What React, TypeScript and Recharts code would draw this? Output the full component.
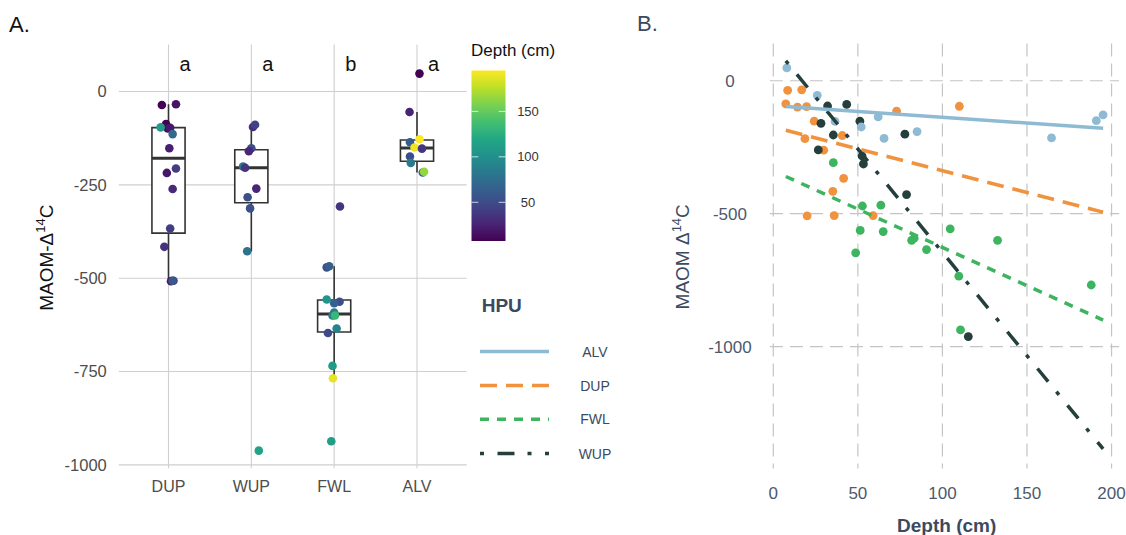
import React from 'react';
import {
  ComposedChart,
  Scatter,
  XAxis,
  YAxis,
  CartesianGrid,
  ReferenceArea,
  ReferenceLine,
} from 'recharts';

const FONT = '"Liberation Sans", Arial, Helvetica, sans-serif';

// ---------------- DATA ----------------
const CATEGORIES = ['DUP', 'WUP', 'FWL', 'ALV'];
const CATEGORY_POS = [1, 2, 3, 4];
const SIG_LETTERS = ['a', 'a', 'b', 'a'];
const SIG_LETTER_Y = 75;
const LEGEND_ORDER = ['ALV', 'DUP', 'FWL', 'WUP'];

const DUP_DEPTH = [8.5, 16.8, 7.4, 14.3, 19.7, 110, 72.9, 24.2, 40.8, 18.7, 29.8, 41.6, 35.2, 20, 36, 59];
const DUP_VALUE = [-36, -34, -87, -99, -97, -96, -114, -152, -206, -218, -261, -367, -416, -508, -507, -507];
const DUP_JITTER = [-0.08, 0.09, -0.03, -0.01, 0.02, -0.095, 0.05, 0.01, 0.09, -0.02, 0.05, 0.02, -0.05, 0.03, 0.06, 0.05];

const WUP_DEPTH = [32.1, 43.4, 51.2, 28.2, 77.8, 35.5, 26.6, 52.5, 53.3, 78.8, 115.3];
const WUP_VALUE = [-95, -89, -152, -160, -201, -204, -260, -283, -313, -428, -962];
const WUP_JITTER = [0.02, 0.045, 0, -0.03, -0.1, -0.075, 0.06, -0.045, -0.015, -0.05, 0.09];

const FWL_DEPTH = [35.5, 52.7, 63.6, 104.6, 51.4, 65, 81.8, 83.3, 132.6, 90.6, 48.7, 109.7, 188, 110.7];
const FWL_VALUE = [-308, -471, -468, -557, -563, -567, -600, -592, -600, -635, -647, -735, -768, -937];
const FWL_JITTER = [0.07, -0.09, -0.06, -0.09, 0.065, 0, -0.02, 0.0, 0.01, 0.03, -0.075, -0.02, -0.015, -0.035];

const ALV_DEPTH = [8, 26, 62, 195, 191, 36.5, 52, 85, 65.5, 164.5];
const ALV_VALUE = [48, -55, -136, -128, -150, -153, -174, -191, -217, -215];
const ALV_JITTER = [0.03, -0.09, -0.085, 0.03, -0.03, 0.06, -0.085, -0.075, 0.07, 0.085];

// fitted lines, at the two depths below
const FIT_DEPTH = [7.4, 195];
const ALV_FIT = [-97, -179];
const DUP_FIT = [-186, -494];
const FWL_FIT = [-360, -900];
const WUP_FIT = [75, -1384];

const Y_TICKS_A = [-1000, -750, -500, -250, 0];
const Y_TICKS_B = [-1000, -500, 0];
const X_TICKS_B = [0, 50, 100, 150, 200];
const COLORBAR_TICKS = [50, 100, 150];

// ---------------- STYLE ----------------
const GROUPS: Record<string, { depth: number[]; value: number[]; jitter: number[]; fit: number[] }> = {
  DUP: { depth: DUP_DEPTH, value: DUP_VALUE, jitter: DUP_JITTER, fit: DUP_FIT },
  WUP: { depth: WUP_DEPTH, value: WUP_VALUE, jitter: WUP_JITTER, fit: WUP_FIT },
  FWL: { depth: FWL_DEPTH, value: FWL_VALUE, jitter: FWL_JITTER, fit: FWL_FIT },
  ALV: { depth: ALV_DEPTH, value: ALV_VALUE, jitter: ALV_JITTER, fit: ALV_FIT },
};

const HPU_STYLE: Record<string, { color: string; dash?: string }> = {
  ALV: { color: '#8fbad3' },
  DUP: { color: '#f0923e', dash: '17 9' },
  FWL: { color: '#3db45f', dash: '9 8' },
  WUP: { color: '#253f3d', dash: '4 13.5 17 13' },
};

const SLATE = '#3b4a5f';
const TICK_B = '#4c5a6d';
const TICK_A = '#4d4d4d';

const VIR = ['#440154', '#482475', '#414487', '#355f8d', '#2a788e', '#21918c', '#22a884', '#44bf70', '#7ad151', '#bddf26', '#fde725'];

const ALL_DEPTHS = [...DUP_DEPTH, ...WUP_DEPTH, ...FWL_DEPTH, ...ALV_DEPTH];
const DMIN = Math.min(...ALL_DEPTHS);
const DMAX = Math.max(...ALL_DEPTHS);

function hexToRgb(h: string) {
  return [parseInt(h.slice(1, 3), 16), parseInt(h.slice(3, 5), 16), parseInt(h.slice(5, 7), 16)];
}
function viridis(d: number) {
  let t = (d - DMIN) / (DMAX - DMIN);
  t = Math.max(0, Math.min(1, t));
  const s = t * 10;
  const i = Math.min(9, Math.floor(s));
  const f = s - i;
  const a = hexToRgb(VIR[i]);
  const b = hexToRgb(VIR[i + 1]);
  const c = a.map((v, k) => Math.round(v + (b[k] - v) * f));
  return `rgb(${c[0]},${c[1]},${c[2]})`;
}

function q7(sorted: number[], p: number) {
  const h = (sorted.length - 1) * p;
  const lo = Math.floor(h);
  const hi = Math.ceil(h);
  return sorted[lo] + (sorted[hi] - sorted[lo]) * (h - lo);
}
function boxStats(values: number[]) {
  const s = [...values].sort((a, b) => a - b);
  const q1 = q7(s, 0.25);
  const med = q7(s, 0.5);
  const q3 = q7(s, 0.75);
  const iqr = q3 - q1;
  const lo = Math.min(...s.filter((v) => v >= q1 - 1.5 * iqr));
  const hi = Math.max(...s.filter((v) => v <= q3 + 1.5 * iqr));
  return { q1, med, q3, lo, hi };
}

const pointsA = CATEGORIES.flatMap((c, i) =>
  GROUPS[c].depth.map((d, j) => ({ x: CATEGORY_POS[i] + GROUPS[c].jitter[j], y: GROUPS[c].value[j], depth: d }))
);
const boxes = CATEGORIES.map((c, i) => ({ pos: CATEGORY_POS[i], ...boxStats(GROUPS[c].value) }));
const lettersData = CATEGORIES.map((c, i) => ({ x: CATEGORY_POS[i] + 0.2, y: SIG_LETTER_Y, label: SIG_LETTERS[i] }));

const BOX_HALF = 0.2;
const BOX_STROKE = '#333333';

// colorbar geometry
const CB_X = 471.5;
const CB_TOP = 70.5;
const CB_H = 170.5;
const CB_W = 34;
const cbY = (d: number) => CB_TOP + CB_H - ((d - DMIN) / (DMAX - DMIN)) * CB_H;

const LEGEND_Y = [351.5, 385.5, 419.3, 453.5];

export default function App() {
  return (
    <div
      style={{
        position: 'absolute',
        left: 0,
        top: 0,
        width: 1126,
        height: 535,
        background: '#ffffff',
        fontFamily: FONT,
        overflow: 'hidden',
      }}
    >
      {/* Panel A */}
      <div style={{ position: 'absolute', left: 0, top: 0 }}>
        <ComposedChart width={480} height={535} margin={{ top: 44.5, right: 13.3, bottom: 36.8, left: 58.8 }}>
          <CartesianGrid
            stroke="#cfcfcf"
            strokeWidth={1.1}
            horizontalValues={Y_TICKS_A}
            verticalValues={CATEGORY_POS}
          />
          <XAxis
            type="number"
            dataKey="x"
            domain={[0.4, 4.6]}
            ticks={CATEGORY_POS}
            interval={0}
            allowDataOverflow
            tickFormatter={(v: number) => CATEGORIES[CATEGORY_POS.indexOf(Math.round(v))]}
            axisLine={false}
            tickLine={false}
            height={30}
            tickMargin={6.5}
            tick={{ fill: TICK_A, fontSize: 16 }}
          />
          <YAxis
            type="number"
            dataKey="y"
            domain={[-1009, 126]}
            ticks={Y_TICKS_A}
            interval={0}
            allowDataOverflow
            axisLine={false}
            tickLine={false}
            width={60}
            tickMargin={6}
            tick={{ fill: TICK_A, fontSize: 16.5 }}
          />
          {boxes.map((b) => (
            <ReferenceLine
              key={'wu' + b.pos}
              segment={[
                { x: b.pos, y: b.q3 },
                { x: b.pos, y: b.hi },
              ]}
              stroke={BOX_STROKE}
              strokeWidth={1.6}
            />
          ))}
          {boxes.map((b) => (
            <ReferenceLine
              key={'wl' + b.pos}
              segment={[
                { x: b.pos, y: b.lo },
                { x: b.pos, y: b.q1 },
              ]}
              stroke={BOX_STROKE}
              strokeWidth={1.6}
            />
          ))}
          {boxes.map((b) => (
            <ReferenceArea
              key={'bx' + b.pos}
              x1={b.pos - BOX_HALF}
              x2={b.pos + BOX_HALF}
              y1={b.q1}
              y2={b.q3}
              fill="#ffffff"
              fillOpacity={1}
              stroke={BOX_STROKE}
              strokeWidth={1.6}
            />
          ))}
          {boxes.map((b) => (
            <ReferenceLine
              key={'md' + b.pos}
              segment={[
                { x: b.pos - BOX_HALF, y: b.med },
                { x: b.pos + BOX_HALF, y: b.med },
              ]}
              stroke={BOX_STROKE}
              strokeWidth={3}
            />
          ))}
          <Scatter
            data={pointsA}
            isAnimationActive={false}
            shape={(p: any) => <circle cx={p.cx} cy={p.cy} r={4.3} fill={viridis(p.payload.depth)} />}
          />
          <Scatter
            data={lettersData}
            isAnimationActive={false}
            shape={(p: any) => (
              <text x={p.cx} y={p.cy + 7} textAnchor="middle" fontSize={20} fill="#111" fontFamily={FONT}>
                {p.payload.label}
              </text>
            )}
          />
        </ComposedChart>
      </div>

      {/* Panel B */}
      <div style={{ position: 'absolute', left: 640, top: 0 }}>
        <ComposedChart width={486} height={535} margin={{ top: 43.5, right: 7, bottom: 36.5, left: 69.9 }}>
          <CartesianGrid
            stroke="#c4c4c4"
            strokeWidth={1.2}
            strokeDasharray="13 7"
            horizontalValues={Y_TICKS_B}
            verticalValues={X_TICKS_B}
          />
          <XAxis
            type="number"
            dataKey="x"
            domain={[-2, 204.4]}
            ticks={X_TICKS_B}
            interval={0}
            allowDataOverflow
            axisLine={false}
            tickLine={false}
            height={30}
            tickMargin={12}
            tick={{ fill: TICK_B, fontSize: 17 }}
          />
          <YAxis
            type="number"
            dataKey="y"
            domain={[-1458, 140]}
            ticks={Y_TICKS_B}
            interval={0}
            allowDataOverflow
            axisLine={false}
            tickLine={false}
            width={60}
            tickMargin={34}
            tick={{ fill: TICK_B, fontSize: 17, textAnchor: 'middle' }}
          />
          {CATEGORIES.map((c) => (
            <Scatter
              key={'pt' + c}
              data={GROUPS[c].depth.map((d, j) => ({ x: d, y: GROUPS[c].value[j] }))}
              isAnimationActive={false}
              shape={(p: any) => <circle cx={p.cx} cy={p.cy} r={4.4} fill={HPU_STYLE[c].color} />}
            />
          ))}
          {CATEGORIES.map((c) => (
            <Scatter
              key={'ln' + c}
              data={FIT_DEPTH.map((d, j) => ({ x: d, y: GROUPS[c].fit[j] }))}
              isAnimationActive={false}
              line={{
                stroke: HPU_STYLE[c].color,
                strokeWidth: 3.5,
                strokeDasharray: HPU_STYLE[c].dash,
                fill: 'none',
              }}
              shape={() => <g />}
            />
          ))}
        </ComposedChart>
      </div>

      {/* Titles and legends */}
      <svg
        width={1126}
        height={535}
        style={{ position: 'absolute', left: 0, top: 0, pointerEvents: 'none' }}
        fontFamily={FONT}
      >
        <defs>
          <linearGradient id="virGrad" x1="0" y1="1" x2="0" y2="0">
            {VIR.map((c, i) => (
              <stop key={i} offset={i / 10} stopColor={c} />
            ))}
          </linearGradient>
        </defs>

        <text x={9} y={31.5} fontSize={22} fill="#111">
          A.
        </text>
        <text x={637} y={31} fontSize={22} fill={SLATE}>
          B.
        </text>

        {/* Panel A y title */}
        <text transform="translate(53,257.7) rotate(-90)" textAnchor="middle" fontSize={19} fill="#111">
          MAOM-Δ
          <tspan dy={-8} fontSize={13}>
            14
          </tspan>
          <tspan dy={8}>C</tspan>
        </text>

        {/* Panel B y title */}
        <text transform="translate(689.3,256.8) rotate(-90)" textAnchor="middle" fontSize={19} fill={SLATE}>
          MAOM Δ
          <tspan dy={-8} fontSize={13}>
            14
          </tspan>
          <tspan dy={8}>C</tspan>
        </text>

        {/* Panel B x title */}
        <text x={946.7} y={531.5} textAnchor="middle" fontSize={19} fontWeight="bold" fill={SLATE}>
          Depth (cm)
        </text>

        {/* Colorbar */}
        <text x={471} y={56} fontSize={17} fill="#111">
          Depth (cm)
        </text>
        <rect x={CB_X} y={CB_TOP} width={CB_W} height={CB_H} fill="url(#virGrad)" />
        {COLORBAR_TICKS.map((t) => (
          <g key={t}>
            <line x1={CB_X} x2={CB_X + 6.8} y1={cbY(t)} y2={cbY(t)} stroke="#ffffff" strokeOpacity={0.75} strokeWidth={1} />
            <line
              x1={CB_X + CB_W - 6.8}
              x2={CB_X + CB_W}
              y1={cbY(t)}
              y2={cbY(t)}
              stroke="#ffffff"
              strokeOpacity={0.75}
              strokeWidth={1}
            />
            <text x={528} y={cbY(t)} dominantBaseline="central" textAnchor="middle" fontSize={13} fill="#333">
              {t}
            </text>
          </g>
        ))}

        {/* HPU legend */}
        <text x={481.7} y={311.8} fontSize={19} fontWeight="bold" fill={SLATE}>
          HPU
        </text>
        {LEGEND_ORDER.map((h, i) => (
          <g key={h}>
            <line
              x1={480}
              x2={549}
              y1={LEGEND_Y[i]}
              y2={LEGEND_Y[i]}
              stroke={HPU_STYLE[h].color}
              strokeWidth={3.5}
              strokeDasharray={HPU_STYLE[h].dash}
            />
            <text x={595} y={LEGEND_Y[i]} dominantBaseline="central" textAnchor="middle" fontSize={14} fill={SLATE}>
              {h}
            </text>
          </g>
        ))}
      </svg>
    </div>
  );
}
